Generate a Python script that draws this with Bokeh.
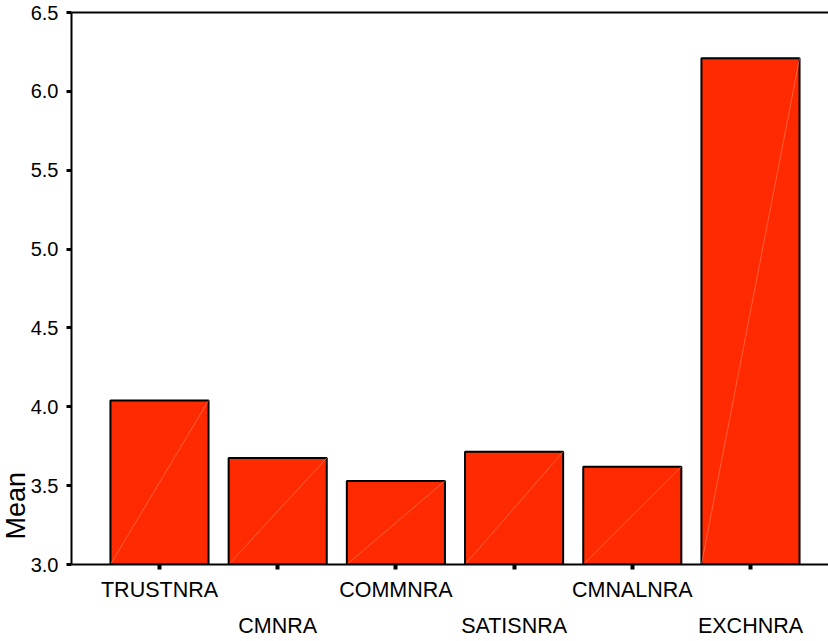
from bokeh.plotting import figure
from bokeh.models import (Range1d, FixedTicker, LinearAxis, Title,
                          ColumnDataSource, NumeralTickFormatter)
from bokeh.embed import file_html
from bokeh.resources import INLINE

categories = ["TRUSTNRA", "CMNRA", "COMMNRA", "SATISNRA", "CMNALNRA", "EXCHNRA"]
means = [4.04, 3.675, 3.53, 3.715, 3.62, 6.21]
y_ticks = [3.0, 3.5, 4.0, 4.5, 5.0, 5.5, 6.0, 6.5]

xs = list(range(1, len(categories) + 1))
bw = 0.83
base = 3.0
src = ColumnDataSource(dict(
    x=xs, top=means,
    x0=[x - bw / 2 for x in xs], x1=[x + bw / 2 for x in xs],
    y0=[base] * len(xs),
))

FONT = "Liberation Sans"

p = figure(width=828, height=640, output_backend="svg", toolbar_location=None,
           x_range=Range1d(0.2555, 6.66), y_range=Range1d(3.0, 6.5),
           min_border_left=71, min_border_right=0, min_border_top=12,
           min_border_bottom=74)
p.outline_line_color = None
p.xgrid.visible = False
p.ygrid.visible = False
p.background_fill_color = "white"
p.border_fill_color = "white"

p.vbar(x="x", top="top", bottom=base, width=bw, source=src,
       fill_color="#ff2a00", line_color="black", line_width=2)
p.segment(x0="x0", y0="y0", x1="x1", y1="top", source=src,
          line_color="#ff8a70", line_width=0.7, line_alpha=0.8)

# x axis (ticks + odd labels)
xa = p.xaxis[0]
xa.ticker = FixedTicker(ticks=xs)
xa.major_label_overrides = {x: (c if i % 2 == 0 else " ") for i, (x, c) in enumerate(zip(xs, categories))}
xa.axis_line_width = 2
xa.axis_line_color = "black"
xa.major_tick_out = 5
xa.major_tick_in = 0
xa.major_tick_line_width = 4
xa.minor_tick_line_color = None
xa.major_label_standoff = 8
xa.major_label_text_font = FONT
xa.major_label_text_font_size = "21.5px"
xa.major_label_text_color = "black"

# second row of x labels
xb = LinearAxis(ticker=FixedTicker(ticks=xs[1::2]))
xb.major_label_overrides = {x: c for x, c in zip(xs[1::2], categories[1::2])}
xb.axis_line_color = None
xb.major_tick_line_color = None
xb.minor_tick_line_color = None
xb.major_label_standoff = 3
xb.major_label_text_font = FONT
xb.major_label_text_font_size = "21.5px"
xb.major_label_text_color = "black"
p.add_layout(xb, "below")

# top frame line
xt = LinearAxis(ticker=FixedTicker(ticks=[]))
xt.axis_line_width = 2
xt.axis_line_color = "black"
xt.major_tick_line_color = None
xt.minor_tick_line_color = None
xt.major_label_text_font_size = "0px"
p.add_layout(xt, "above")

ya = p.yaxis[0]
ya.ticker = FixedTicker(ticks=y_ticks)
ya.formatter = NumeralTickFormatter(format="0.0")
ya.axis_line_width = 2
ya.axis_line_color = "black"
ya.major_tick_out = 5
ya.major_tick_in = 0
ya.major_tick_line_width = 3
ya.minor_tick_line_color = None
ya.major_label_standoff = 8
ya.major_label_text_font = FONT
ya.major_label_text_font_size = "20px"
ya.major_label_text_color = "black"

p.add_layout(Title(text="Mean", align="left", offset=25, standoff=-7,
                   text_font=FONT, text_font_size="27px",
                   text_font_style="normal", text_color="black"), "left")

open("out.html", "w").write(file_html(p, INLINE))
